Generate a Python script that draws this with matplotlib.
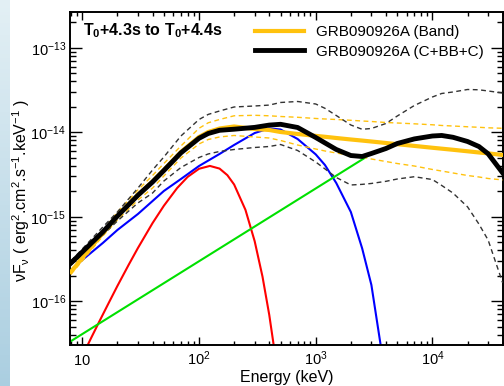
import numpy as np
import matplotlib
matplotlib.use('Agg')
import matplotlib.pyplot as plt
import matplotlib.ticker as mticker

plt.rcParams['font.family'] = ['Liberation Sans', 'DejaVu Sans']
plt.rcParams['mathtext.fontset'] = 'custom'
plt.rcParams['mathtext.rm'] = 'Liberation Sans'
plt.rcParams['mathtext.it'] = 'Liberation Sans:italic'
plt.rcParams['mathtext.bf'] = 'Liberation Sans:bold'
plt.rcParams['axes.unicode_minus'] = False

# energies in keV, nuFnu values in units of 1e-14
energy = [8, 10, 15, 20, 30, 40, 50, 70, 100, 120, 150, 200, 300, 400, 500, 700,
          1000, 1200, 1500, 2000, 2500, 3000, 4000, 5000, 7000, 10000, 12000, 15000,
          20000, 25000, 30000, 40000]

cbbc_total = [0.0284, 0.0383, 0.0661, 0.102, 0.180, 0.258, 0.353, 0.571, 0.849, 0.968,
              1.056, 1.088, 1.143, 1.217, 1.243, 1.140, 0.868, 0.749, 0.626, 0.531,
              0.517, 0.561, 0.643, 0.737, 0.835, 0.904, 0.917, 0.873, 0.778, 0.679,
              0.557, 0.330]
cbbc_upper = [0.0300, 0.0416, 0.0757, 0.114, 0.219, 0.358, 0.510, 0.904, 1.417, 1.628,
              1.787, 1.993, 2.048, 2.099, 2.253, 2.315, 2.162, 1.923, 1.580, 1.220,
              1.085, 1.109, 1.271, 1.559, 2.076, 2.617, 2.879, 2.999, 3.210, 3.184,
              3.082, 2.918]
cbbc_lower = [0.0269, 0.0353, 0.0609, 0.0892, 0.146, 0.191, 0.265, 0.383, 0.503, 0.554,
              0.593, 0.626, 0.661, 0.679, 0.717, 0.609, 0.445, 0.369, 0.292, 0.238,
              0.242, 0.248, 0.263, 0.280, 0.298, 0.276, 0.235, 0.191, 0.131, 0.0822,
              0.0531, 0.0165]

band = [0.0222, 0.0325, 0.0643, 0.102, 0.181, 0.262, 0.358, 0.585, 0.880, 1.008,
        1.109, 1.171, 1.094, 1.065, 1.008, 0.955, 0.907, 0.885, 0.856, 0.822,
        0.798, 0.778, 0.747, 0.723, 0.690, 0.656, 0.640, 0.621, 0.596, 0.577,
        0.563, 0.539]
band_upper = [0.0235, 0.0344, 0.0679, 0.114, 0.208, 0.308, 0.427, 0.688, 1.115, 1.296,
              1.417, 1.568, 1.589, 1.568, 1.538, 1.505, 1.457, 1.437, 1.417, 1.387,
              1.360, 1.342, 1.306, 1.288, 1.260, 1.227, 1.204, 1.187, 1.162, 1.146,
              1.130, 1.115]
band_lower = [0.0210, 0.0300, 0.0593, 0.0917, 0.158, 0.219, 0.304, 0.496, 0.727, 0.822,
              0.880, 0.917, 0.880, 0.856, 0.800, 0.707, 0.634, 0.601, 0.569, 0.531,
              0.510, 0.483, 0.451, 0.427, 0.399, 0.363, 0.348, 0.330, 0.308, 0.296,
              0.284, 0.273]

energy_comp = [8, 10, 15, 20, 30, 50, 70, 100, 150, 200, 300, 400, 500, 700, 1000,
               1200, 1500, 2000, 2500, 3000, 3600, 3800]
comp = [0.0235, 0.0308, 0.0490, 0.0698, 0.108, 0.202, 0.280, 0.399, 0.554, 0.708,
        0.980, 1.112, 1.079, 0.833, 0.548, 0.410, 0.251, 0.114, 0.0423, 0.0156,
        0.00304, 0.00197]

energy_bb = [11, 12, 14, 17, 20, 25, 30, 40, 50, 65, 80, 100, 124, 150, 175, 200,
             250, 300, 350, 400, 450]
bb = [0.00294, 0.00376, 0.00577, 0.0098, 0.0152, 0.0271, 0.0428, 0.0842, 0.135, 0.219,
      0.297, 0.370, 0.400, 0.372, 0.311, 0.241, 0.121, 0.0514, 0.0196, 0.0069, 0.00227]

energy_pl = [8, 2700]
pl = [0.00338, 0.509]

UNIT = 1e-14
ORANGE = '#ffc20e'

fig = plt.figure(figsize=(5.04, 3.86), dpi=100)

# slide background strip on the left
bg = fig.add_axes([0, 0, 0.019, 1], zorder=-5)
grad = np.linspace(0, 1, 100)[:, None, None]
top = np.array([0.89, 0.94, 0.96])
bot = np.array([0.67, 0.81, 0.88])
bg.imshow(top + (bot - top) * grad, aspect='auto', extent=[0, 1, 0, 1])
bg.axis('off')

ax = fig.add_axes([70 / 504, 1 - 345 / 386, 432.7 / 504, 332.7 / 386])

def s(v):
    return np.array(v) * UNIT

ax.plot(energy_bb, s(bb), color='#ff0000', lw=1.5, zorder=2)
ax.plot(energy_comp, s(comp), color='#0000ff', lw=1.5, zorder=2)
ax.plot(energy_pl, s(pl), color='#00e000', lw=1.5, zorder=2)

dash = (0, (3.5, 2.5))
ax.plot(energy, s(band_upper), color=ORANGE, lw=1.0, ls=dash, zorder=3)
ax.plot(energy, s(band_lower), color=ORANGE, lw=1.0, ls=dash, zorder=3)
ax.plot(energy, s(cbbc_upper), color='#333333', lw=1.0, ls=dash, zorder=3)
ax.plot(energy, s(cbbc_lower), color='#333333', lw=1.0, ls=dash, zorder=3)

ax.plot(energy, s(band), color=ORANGE, lw=3.0, zorder=4, label='GRB090926A (Band)')
ax.plot(energy, s(cbbc_total), color='black', lw=3.5, zorder=5, label='GRB090926A (C+BB+C)')

ax.set_xscale('log')
ax.set_yscale('log')
ax.set_xlim(7.85, 40000)
ax.set_ylim(3.04e-17, 2.63e-13)

ax.xaxis.set_major_locator(mticker.FixedLocator([10, 100, 1000, 10000]))
ax.xaxis.set_major_formatter(mticker.FixedFormatter(
    [r'$\mathdefault{10}$', r'$\mathdefault{10^{2}}$', r'$\mathdefault{10^{3}}$', r'$\mathdefault{10^{4}}$']))
ax.xaxis.set_minor_locator(mticker.LogLocator(base=10, subs=np.arange(2, 10)))
ax.xaxis.set_minor_formatter(mticker.NullFormatter())
ax.yaxis.set_major_locator(mticker.FixedLocator([1e-16, 1e-15, 1e-14, 1e-13]))
ax.yaxis.set_major_formatter(mticker.LogFormatterSciNotation())
ax.yaxis.set_minor_locator(mticker.LogLocator(base=10, subs=np.arange(2, 10), numticks=10))
ax.yaxis.set_minor_formatter(mticker.NullFormatter())

for sp in ax.spines.values():
    sp.set_linewidth(1.4)
ax.tick_params(which='both', direction='in', top=True, right=True, labelsize=10.5, width=1.0)
ax.tick_params(axis='x', which='major', length=5.6, pad=14.5)
ax.tick_params(axis='x', which='minor', length=3.1)
ax.tick_params(axis='y', which='major', length=8.6, pad=3)
ax.tick_params(axis='y', which='minor', length=4.3)
for t in ax.xaxis.get_major_ticks():
    t.label1.set_verticalalignment('baseline')

ax.text(0.5, -0.097, 'Energy (keV)', transform=ax.transAxes, ha='center', va='center', fontsize=11.5)
ax.text(-0.113, 0.465, r'νF$_\mathregular{ν}$ ( erg$^2$.cm$^2$.s$^{-1}$.keV$^{-1}$ )',
        transform=ax.transAxes, ha='center', va='center', rotation=90, fontsize=11.5)
ax.text(0.030, 0.945, r'T$_\mathbf{0}$+4.3s to T$_\mathbf{0}$+4.4s', transform=ax.transAxes,
        ha='left', va='center', fontsize=11.5, fontweight='bold')

ax.legend(loc='upper left', bbox_to_anchor=(0.4275, 0.962), frameon=False, fontsize=11,
          handlelength=3.2, handletextpad=0.8, labelspacing=0.38, borderpad=0, borderaxespad=0)

fig.savefig('out.png', dpi=100)
